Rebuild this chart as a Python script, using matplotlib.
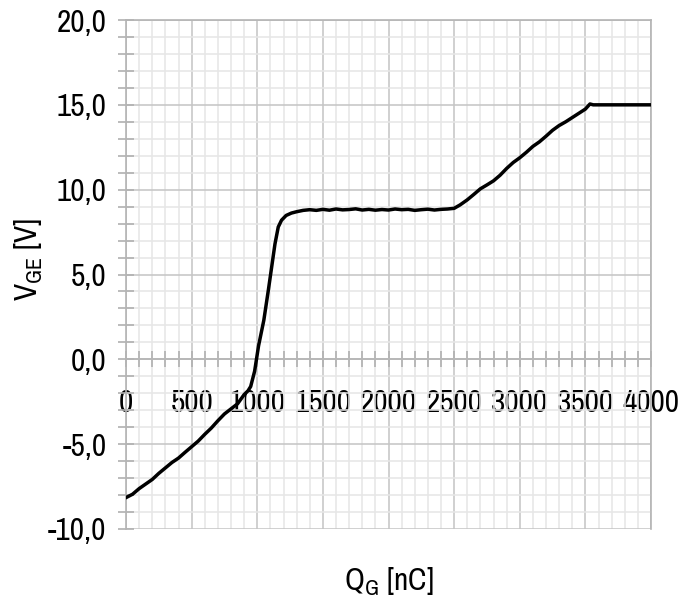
import matplotlib
matplotlib.use('Agg')
import matplotlib.pyplot as plt
from matplotlib.ticker import MultipleLocator, FuncFormatter

plt.rcParams['font.family'] = ['Archivo Narrow', 'Liberation Sans', 'DejaVu Sans']
plt.rcParams['mathtext.fontset'] = 'custom'
plt.rcParams['mathtext.rm'] = 'Archivo Narrow'
plt.rcParams['mathtext.it'] = 'Archivo Narrow'

# gate charge curve, Q_G in nC and V_GE in V
qg = [0, 50, 100, 150, 200, 250, 300, 350, 400, 450, 500, 550, 600, 650, 700,
      750, 800, 850, 900, 930, 950, 980, 1010, 1050, 1085, 1110, 1135, 1160,
      1185, 1220, 1260, 1300, 1350, 1400, 1450, 1500, 1550, 1600, 1650, 1700,
      1750, 1800, 1850, 1900, 1950, 2000, 2050, 2100, 2150, 2200, 2250, 2300,
      2350, 2400, 2450, 2500, 2545, 2600, 2650, 2700, 2750, 2800, 2850, 2900,
      2950, 3000, 3050, 3100, 3150, 3200, 3250, 3300, 3350, 3400, 3450, 3500,
      3535, 3560, 4000]
vge = [-8.15, -7.95, -7.62, -7.35, -7.08, -6.72, -6.40, -6.08, -5.82, -5.48,
       -5.15, -4.82, -4.42, -4.05, -3.62, -3.22, -2.92, -2.62, -2.08, -1.85,
       -1.60, -0.70, 0.80, 2.30, 4.10, 5.45, 6.80, 7.80, 8.20, 8.48, 8.62,
       8.70, 8.78, 8.82, 8.78, 8.84, 8.79, 8.86, 8.81, 8.83, 8.87, 8.80, 8.84,
       8.79, 8.83, 8.80, 8.86, 8.82, 8.84, 8.78, 8.82, 8.85, 8.80, 8.84, 8.86,
       8.90, 9.10, 9.40, 9.72, 10.05, 10.28, 10.52, 10.85, 11.25, 11.60, 11.88,
       12.20, 12.55, 12.82, 13.15, 13.50, 13.78, 14.00, 14.25, 14.50, 14.75,
       15.05, 15.00, 15.00]

fig = plt.figure(figsize=(6.8, 6.0), dpi=100)
ax = fig.add_axes([126 / 680, 71 / 600, 525 / 680, 509 / 600])

ax.plot(qg, vge, color='black', linewidth=2.5, solid_joinstyle='round', zorder=3)

ax.set_xlim(0, 4000)
ax.set_ylim(-10, 20)
ax.xaxis.set_major_locator(MultipleLocator(500))
ax.xaxis.set_minor_locator(MultipleLocator(100))
ax.yaxis.set_major_locator(MultipleLocator(5))
ax.yaxis.set_minor_locator(MultipleLocator(1))
ax.yaxis.set_major_formatter(FuncFormatter(lambda v, p: f"{v:.1f}".replace('.', ',')))
ax.xaxis.set_major_formatter(FuncFormatter(lambda v, p: f"{v:.0f}"))

ax.grid(which='major', color='#c4c4c4', linewidth=1.1, zorder=0)
ax.grid(which='minor', color='#e6e6e6', linewidth=1.1, zorder=0)
ax.set_axisbelow(True)

ax.spines['bottom'].set_position(('data', 0))
for side in ['left', 'bottom', 'top', 'right']:
    ax.spines[side].set_color('#b4b4b4')
    ax.spines[side].set_linewidth(1.2)

ax.tick_params(axis='both', which='both', direction='inout', color='#b0b0b0', width=1.2)
ax.tick_params(axis='x', which='both', length=11, pad=16, labelsize=22.5)
ax.tick_params(axis='y', which='both', length=12, pad=8, labelsize=22.5)

ax.set_xlabel(r'$\mathregular{Q_G}$ [nC]', fontsize=22.5, labelpad=0)
ax.xaxis.set_label_coords(0.5, -0.072)
ax.set_ylabel(r'$\mathregular{V_{GE}}$ [V]', fontsize=22.5)
ax.yaxis.set_label_coords(-0.155, 0.53)

fig.savefig('out.png', dpi=100)
